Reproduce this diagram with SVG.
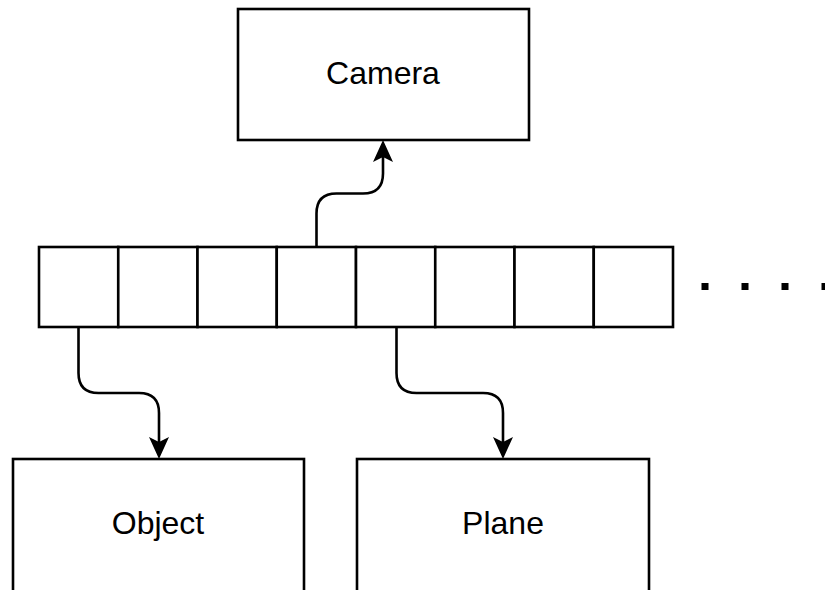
<svg xmlns="http://www.w3.org/2000/svg" width="825" height="590" viewBox="0 0 825 590">
  <style>
    .box { fill: #ffffff; stroke: #000000; stroke-width: 2.6; }
    .cell { fill: #ffffff; stroke: #000000; stroke-width: 2.6; }
    .label { font-family: "Liberation Sans", Arial, Helvetica, sans-serif; font-size: 32px; fill: #000000; text-anchor: middle; }
    .edge { fill: none; stroke: #000000; stroke-width: 2.6; marker-end: url(#arrow); }
  </style>
  <defs>
    <marker id="arrow" viewBox="0 0 22 20" refX="5" refY="10" markerWidth="22" markerHeight="20" markerUnits="userSpaceOnUse" orient="auto">
      <path d="M0,0 L22,10 L0,20 L5,10 Z" fill="#000000"/>
    </marker>
  </defs>

  <rect width="825" height="590" fill="#ffffff"/>

  <!-- top node -->
  <g id="camera">
    <rect class="box" x="238" y="9" width="291" height="131"/>
    <text class="label" x="383" y="84">Camera</text>
  </g>

  <!-- row of eight slots -->
  <g id="array">
    <rect class="cell" x="39" y="247" width="79.25" height="80"/>
    <rect class="cell" x="118.25" y="247" width="79.25" height="80"/>
    <rect class="cell" x="197.5" y="247" width="79.25" height="80"/>
    <rect class="cell" x="276.75" y="247" width="79.25" height="80"/>
    <rect class="cell" x="356" y="247" width="79.25" height="80"/>
    <rect class="cell" x="435.25" y="247" width="79.25" height="80"/>
    <rect class="cell" x="514.5" y="247" width="79.25" height="80"/>
    <rect class="cell" x="593.75" y="247" width="79.25" height="80"/>
  </g>

  <!-- continuation dots -->
  <g id="ellipsis">
    <line x1="701.5" y1="286.5" x2="840" y2="286.5" stroke="#000000" stroke-width="7" stroke-dasharray="7 33"/>
  </g>

  <!-- bottom nodes (extend past the lower edge) -->
  <g id="object">
    <rect class="box" x="13" y="459" width="291" height="140"/>
    <text class="label" x="158" y="534">Object</text>
  </g>
  <g id="plane">
    <rect class="box" x="357" y="459" width="292" height="140"/>
    <text class="label" x="503" y="534">Plane</text>
  </g>

  <!-- connectors -->
  <g id="connectors">
    <path class="edge" d="M316.5,247 L316.5,213.5 Q316.5,193.5 336.5,193.5 L363,193.5 Q383,193.5 383,173.5 L383,157"/>
    <path class="edge" d="M78.5,327 L78.5,373 Q78.5,393 98.5,393 L139,393 Q159,393 159,413 L159,442"/>
    <path class="edge" d="M396.5,327 L396.5,373 Q396.5,393 416.5,393 L483,393 Q503,393 503,413 L503,442"/>
  </g>
</svg>
